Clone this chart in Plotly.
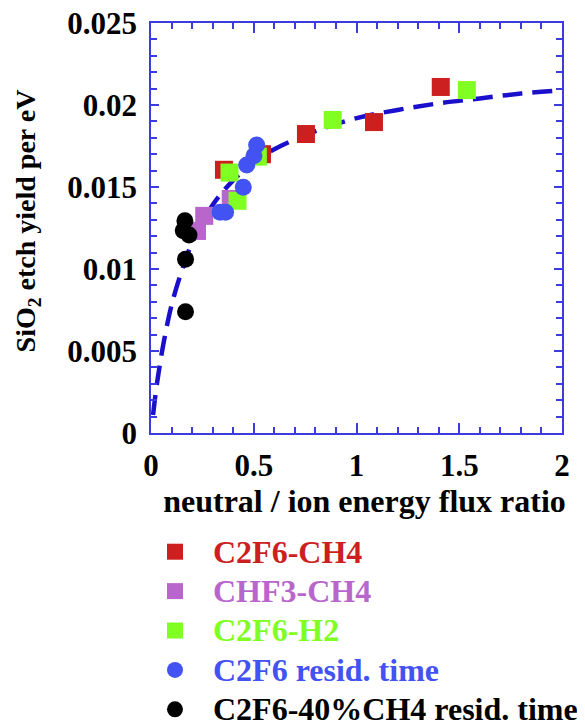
import plotly.graph_objects as go

# ---- data ----
c2f6_ch4_x = [0.355, 0.54, 0.754, 1.085, 1.41]
c2f6_ch4_y = [0.01605, 0.0170, 0.01823, 0.01896, 0.0211]

chf3_ch4_x = [0.224, 0.259, 0.388]
chf3_ch4_y = [0.01232, 0.01324, 0.01427]

c2f6_h2_x = [0.382, 0.421, 0.52, 0.884, 1.537]
c2f6_h2_y = [0.01588, 0.01416, 0.01685, 0.01909, 0.02091]

c2f6_res_x = [0.336, 0.363, 0.449, 0.466, 0.501, 0.514]
c2f6_res_y = [0.01346, 0.01346, 0.01498, 0.01634, 0.0169, 0.01756]

ch4_res_x = [0.165, 0.157, 0.185, 0.168, 0.168]
ch4_res_y = [0.01294, 0.01234, 0.01207, 0.0106, 0.0074]

fit_x = [0.01, 0.03, 0.06, 0.1, 0.15, 0.2, 0.3, 0.4, 0.5, 0.6, 0.8, 1.0, 1.2, 1.4, 1.6, 1.8, 2.0]
fit_y = [0.0011, 0.0031, 0.0054, 0.0078, 0.0099, 0.0116, 0.0139, 0.0154, 0.0165,
         0.0173, 0.0184, 0.0192, 0.0197, 0.0201, 0.0204, 0.0207, 0.0209]

series_names = ["C2F6-CH4", "CHF3-CH4", "C2F6-H2", "C2F6 resid. time", "C2F6-40%CH4 resid. time"]
series_colors = ["#cc1f1f", "#b866cc", "#80ff22", "#4352f2", "#000000"]
series_symbols = ["square", "square", "square", "circle", "circle"]
series_x = [c2f6_ch4_x, chf3_ch4_x, c2f6_h2_x, c2f6_res_x, ch4_res_x]
series_y = [c2f6_ch4_y, chf3_ch4_y, c2f6_h2_y, c2f6_res_y, ch4_res_y]

FONT = "Liberation Serif"
AXIS_COLOR = "#3b3be0"

fig = go.Figure()
fig.add_trace(go.Scatter(
    x=fit_x, y=fit_y, mode="lines", showlegend=False,
    line=dict(color="#1a0fcc", width=4.5, dash="20px,10px", shape="spline"),
))
for name, col, sym, xs, ys in zip(series_names, series_colors, series_symbols, series_x, series_y):
    fig.add_trace(go.Scatter(
        x=xs, y=ys, mode="markers",
        name=f'<span style="color:{col};font-size:32px">{name}</span>',
        marker=dict(symbol=sym, color=col, size=18 if sym == "square" else 17,
                    line=dict(width=0)),
    ))

axis_common = dict(
    showline=True, linecolor=AXIS_COLOR, linewidth=1.5, mirror="ticks",
    ticks="inside", tickcolor=AXIS_COLOR, tickwidth=1.5,
    showgrid=False, zeroline=False, ticklabeloverflow="allow",
    tickfont=dict(family=FONT, size=31, color="black", weight="bold"),
)

fig.update_xaxes(
    range=[0, 2], dtick=0.5, tick0=0, ticklen=10, ticklabelstandoff=4,
    minor=dict(dtick=0.1, ticklen=6, ticks="inside", tickcolor=AXIS_COLOR, tickwidth=1.5),
    title=dict(text="&nbsp;&nbsp;neutral / ion energy flux ratio", standoff=4,
               font=dict(family=FONT, size=32, color="black", weight="bold")),
    **axis_common,
)
fig.update_yaxes(
    range=[0, 0.025], dtick=0.005, tick0=0, ticklen=8, ticklabelstandoff=6,
    minor=dict(dtick=0.001, ticklen=6, ticks="inside", tickcolor=AXIS_COLOR, tickwidth=1.5),
    title=dict(text="&nbsp;&nbsp;SiO<sub>2</sub> etch yield per eV", standoff=23,
               font=dict(family=FONT, size=28, color="black", weight="bold")),
    **axis_common,
)

fig.update_layout(
    width=577, height=719, autosize=False,
    margin=dict(l=143, r=23, t=15, b=294, autoexpand=False),
    plot_bgcolor="white", paper_bgcolor="white",
    legend=dict(
        x=-0.0341, y=-0.2293, xanchor="left", yanchor="top",
        font=dict(family=FONT, size=28, weight="bold"),
        itemwidth=66, bgcolor="rgba(0,0,0,0)", borderwidth=0,
    ),
)

fig.write_html("out.html")
